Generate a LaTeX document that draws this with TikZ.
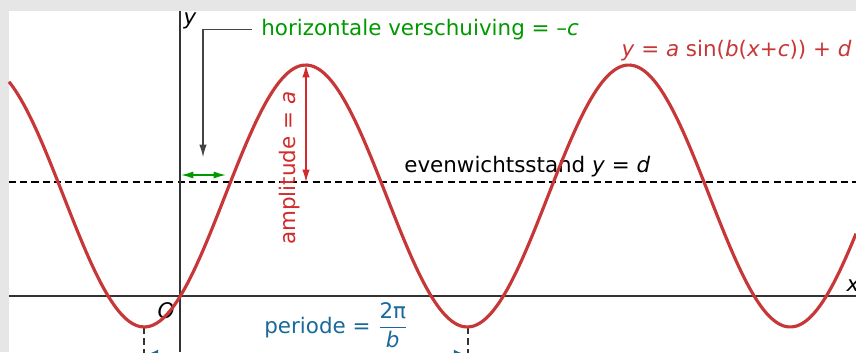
\documentclass[tikz,border=0pt]{standalone}
\usepackage{fontspec}
\setmainfont{DejaVu Sans}
\usepackage{tikz}
\usetikzlibrary{arrows.meta}

\definecolor{sinred}{HTML}{C83737}
\definecolor{amplred}{HTML}{D22B2B}
\definecolor{shiftgreen}{HTML}{009A00}
\definecolor{periodblue}{HTML}{19699B}
\definecolor{axisgray}{HTML}{333333}
\definecolor{leadgray}{HTML}{444444}
\definecolor{framegray}{HTML}{E6E6E6}

\begin{document}
\begin{tikzpicture}[
  x=0.02cm, y=-0.02cm,
  font=\fontsize{12.2}{14}\selectfont,
  txt/.style={inner sep=0pt},
  axis/.style={draw=axisgray, line width=1.15pt},
  wave/.style={draw=sinred, line width=1.8pt},
  guide/.style={dash pattern=on 4pt off 2.4pt, line width=0.65pt},
  amp/.style={{Latex[length=7pt,width=4.2pt]}-{Latex[length=7pt,width=4.2pt]}, draw=amplred, fill=amplred, line width=0.6pt},
  shiftarrow/.style={{Latex[length=7pt,width=4pt]}-{Latex[length=7pt,width=4pt]}, draw=shiftgreen, line width=0.8pt},
  leader/.style={-{Latex[length=7pt,width=4.2pt]}, draw=leadgray, line width=0.6pt},
  perarrow/.style={{Latex[length=8pt,width=6pt]}-{Latex[length=8pt,width=6pt]}, draw=periodblue, line width=0.8pt}
]
\useasboundingbox (0,0) rectangle (856,352);
\clip (0,0) rectangle (856,352);
\fill[framegray] (0,0) rectangle (856,352);
\fill[white] (9,11) rectangle (856,352);

\coordinate (xleft) at (9,296);
\coordinate (xright) at (856,296);
\coordinate (ytop) at (180,11);
\coordinate (ybot) at (180,352);
\coordinate (eqleft) at (9,182);
\coordinate (eqright) at (856,182);

\draw[guide] (eqleft) -- (eqright);
\draw[axis] (xleft) -- (xright);
\draw[axis] (ytop) -- (ybot);

\node[txt] (ylab) at (190,21) {\textit{y}};
\node[txt] (olab) at (166,311) {\textit{O}};
\node[txt] (xlab) at (853,286) {\textit{x}};

\node[txt, anchor=base west, text=shiftgreen] (shift) at (261,35) {horizontale verschuiving = –\textit{c}};
\node[txt, anchor=base east, text=sinred] (formula) at (852,56) {\textit{y} = \textit{a} sin(\textit{b}(\textit{x}+\textit{c})) + \textit{d}};
\node[txt, anchor=base west] (equil) at (404,172) {evenwichtsstand \textit{y} = \textit{d}};
\node[txt, rotate=90, anchor=base west, text=amplred] (ampl) at (295,245) {amplitude = \textit{a}};
\node[txt, anchor=base west, text=periodblue] (period) at (264,333) {periode = $\displaystyle\frac{\mbox{2π}}{\mbox{\itshape b}}$};

\coordinate (shifttip) at (203,157);
\draw[leader, shorten <=5pt] (shift.west) -| (shifttip);

\coordinate (shiftA) at (181,175);
\coordinate (shiftB) at (226,175);
\draw[shiftarrow] (shiftA) -- (shiftB);

\coordinate (peak) at (306,65);
\coordinate (peakfoot) at (306,182);
\draw[amp] (peakfoot) -- (peak);

\coordinate (troughA) at (144,327);
\coordinate (troughB) at (468,327);
\coordinate (perA) at (144,355);
\coordinate (perB) at (468,355);
\draw[guide, draw=axisgray] (troughA) -- (perA);
\draw[guide, draw=axisgray] (troughB) -- (perB);
\draw[perarrow] (perA) -- (perB);

\draw[wave] plot[domain=9:856, samples=200, smooth] (\x, {196-131*sin(1.11455*(\x-225))});
\end{tikzpicture}
\end{document}
